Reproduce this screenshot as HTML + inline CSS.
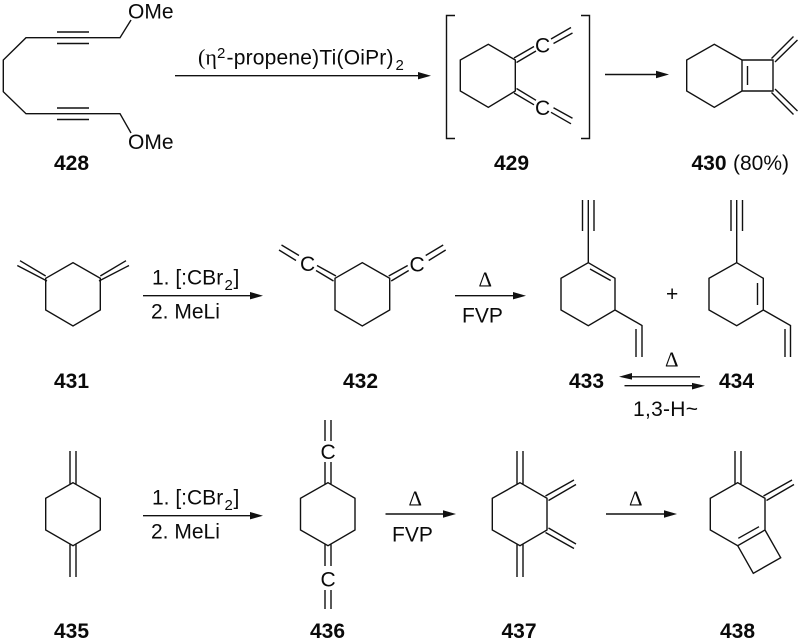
<!DOCTYPE html>
<html><head><meta charset="utf-8"><style>
html,body{margin:0;padding:0;background:#fff}
svg{display:block}
text{font-family:"Liberation Sans",sans-serif;font-size:21px;fill:#0a0a0a}
.b{font-weight:bold}
.s{font-family:"Liberation Serif",serif}
.m{font-size:15px}
path{fill:none;stroke:#111;stroke-width:1.4}
path.h{fill:#111;stroke:none}
</style></head><body>
<svg width="801" height="643" viewBox="0 0 801 643" xmlns="http://www.w3.org/2000/svg">
<!-- 428 -->
<path d="M131 20L120 37.7H89M57 37.7H26L3.3 60V91.7L26 113.7H57M89 113.7H120L131 133"/>
<path d="M57 32H89M57 37.7H89M57 43.5H89M57 108H89M57 113.7H89M57 119.5H89"/>
<text x="128" y="18.5">OMe</text>
<text x="128" y="149">OMe</text>
<text class="b" x="54" y="170">428</text>
<!-- arrow 1 -->
<text class="s" x="198" y="64.5" style="font-size:22px">(η</text>
<text class="m" x="217" y="58">2</text>
<text x="226.5" y="64.5" textLength="167" lengthAdjust="spacing">-propene)Ti(OiPr)</text>
<text class="m" x="395.5" y="70">2</text>
<path d="M175 75.7H420"/><path class="h" d="M431 75.7L418 72V79.400Z"/>
<!-- 429 -->
<path d="M455 15.500H446.500V138.500H455M581 15.500H589.500V138.500H581"/>
<path d="M515.300 60L488.300 44.300L460.300 60V91L488.300 107.300L515.300 91Z"/>
<path d="M514 58L534 46.500M516.500 62.500L536 51M514 93L534 104.800M516.500 88.500L536 100.300M551 39L571 27.500M553.500 43.500L572.500 33M551 112.300L571 123.800M553.500 107.800L572.500 118.300"/>
<text x="535" y="52.500">C</text>
<text x="535" y="115">C</text>
<text class="b" x="494" y="170">429</text>
<!-- arrow 2 -->
<path d="M605 74.500H658"/><path class="h" d="M669 74.500L656 70.800V78.200Z"/>
<!-- 430 -->
<path d="M742 60L714.300 44.300L686.700 60V91L714.300 107.300L742 91M742 60H773V91H742ZM747.500 66V85"/>
<path d="M771.500 58.500L793.500 36.500M775 62L797.500 40M771.500 92.500L793.500 114.500M775 89L797.500 111"/>
<text class="b" x="691.500" y="170">430</text>
<text x="733" y="170">(80%)</text>
<!-- 431 -->
<path d="M45.700 278.300L73 262.700L100.300 278.300V310L73 326L45.700 310Z"/>
<path d="M47 281L17.300 265.500M45.700 276L20 260.700M99 281L129 265.500M100.300 276L126 260.700"/>
<text class="b" x="54" y="388">431</text>
<!-- arrow 3 -->
<text x="152" y="284.500">1. [:CBr</text>
<text class="m" x="224.500" y="290">2</text>
<text x="233.500" y="284.500">]</text>
<text x="151" y="318.500">2. MeLi</text>
<path d="M143 295.700H253"/><path class="h" d="M263 295.700L250 292V299.400Z"/>
<!-- 432 -->
<path d="M335 278.300L362.300 262.700L389.700 278.300V310L362.300 326L335 310Z"/>
<path d="M336 276L317 265.500M333.500 281L316 270.500M279 250L296 260.500M281.500 245L299 255.500M388.700 276L407.700 265.500M391.200 281L408.700 270.500M445.700 250L428.700 260.500M443.200 245L425.700 255.500"/>
<text x="300" y="271">C</text>
<text x="409.500" y="271.500">C</text>
<text class="b" x="343" y="388">432</text>
<!-- arrow 4 -->
<text class="s" x="478.500" y="286.500">Δ</text>
<text x="462" y="322.500">FVP</text>
<path d="M455 295.700H516"/><path class="h" d="M526 295.700L513 292V299.400Z"/>
<!-- 433 -->
<path d="M588.300 262.700L615 278.300V310L588.300 325.700L561 310V278.300ZM590 269L610.700 280.500M588.300 262.700V231M582.500 200V231M588.300 200V231M594 200V231M615 310L642 325.500V357M636 329V357"/>
<!-- plus -->
<text x="666" y="301">+</text>
<!-- 434 -->
<path d="M736.700 262.700L763.300 278.300V310L736.700 325.700L709 310V278.300ZM757.500 283V305M736.700 262.700V231M731 200V231M736.700 200V231M742.500 200V231M763.300 310L790.500 325.500V357M785 329V357"/>
<!-- eq -->
<text class="b" x="569" y="388">433</text>
<text class="b" x="719" y="388">434</text>
<text class="s" x="665" y="366.500">Δ</text>
<text x="633" y="416" textLength="65" lengthAdjust="spacing">1,3-H~</text>
<path d="M630 376.800H700M624.500 385.700H695"/>
<path class="h" d="M619 376.800L632 373V379.600ZM705 385.700L692 382.900V389.500Z"/>
<!-- 435 -->
<path d="M73 482.700L100.300 498.300V530L73 545.700L45.700 530V498.300ZM70 451V484M76 451V484M70 544.500V577M76 544.500V577"/>
<text class="b" x="54" y="638">435</text>
<!-- arrow 5 -->
<text x="152" y="504.500">1. [:CBr</text>
<text class="m" x="224.500" y="510">2</text>
<text x="233.500" y="504.500">]</text>
<text x="151" y="538.500">2. MeLi</text>
<path d="M143 515.700H253"/><path class="h" d="M263 515.700L250 512V519.400Z"/>
<!-- 436 -->
<path d="M328 482.700L355 498.300V530L328 545.700L300.500 530V498.300ZM325 462V484M331 462V484M325 420V441M331 420V441M325 544.500V566M331 544.500V566M325 590V609M331 590V609"/>
<text x="320.500" y="459">C</text>
<text x="320.500" y="586.500">C</text>
<text class="b" x="310" y="638">436</text>
<!-- arrow 6 -->
<text class="s" x="408.500" y="505.500">Δ</text>
<text x="392" y="541.500">FVP</text>
<path d="M385.500 514H446"/><path class="h" d="M456 514L443 510.300V517.700Z"/>
<!-- 437 -->
<path d="M520 482.700L547 498.300V530L520 545.700L492.300 530V498.300ZM517 451V484M523 451V484M517 544.500V577M523 544.500V577"/>
<path d="M545.500 496L574 480M548.500 500.500L576 484.500M545.500 532.500L574 548.500M548.500 528L576 544"/>
<text class="b" x="501.500" y="638">437</text>
<!-- arrow 7 -->
<text class="s" x="629" y="505.500">Δ</text>
<path d="M606 514H667"/><path class="h" d="M677 514L664 510.300V517.700Z"/>
<!-- 438 -->
<path d="M737.700 482.700L765 498.300V530L737.700 545.700L710.300 530V498.300ZM735 451V484M741 451V484M765 530L780.700 557.700L753.300 573.300L737.700 545.700M738.300 538.300L759 526.700"/>
<path d="M763.500 496L792 480M766.500 500.500L794 484.500"/>
<text class="b" x="720" y="638">438</text>
</svg>
</body></html>
